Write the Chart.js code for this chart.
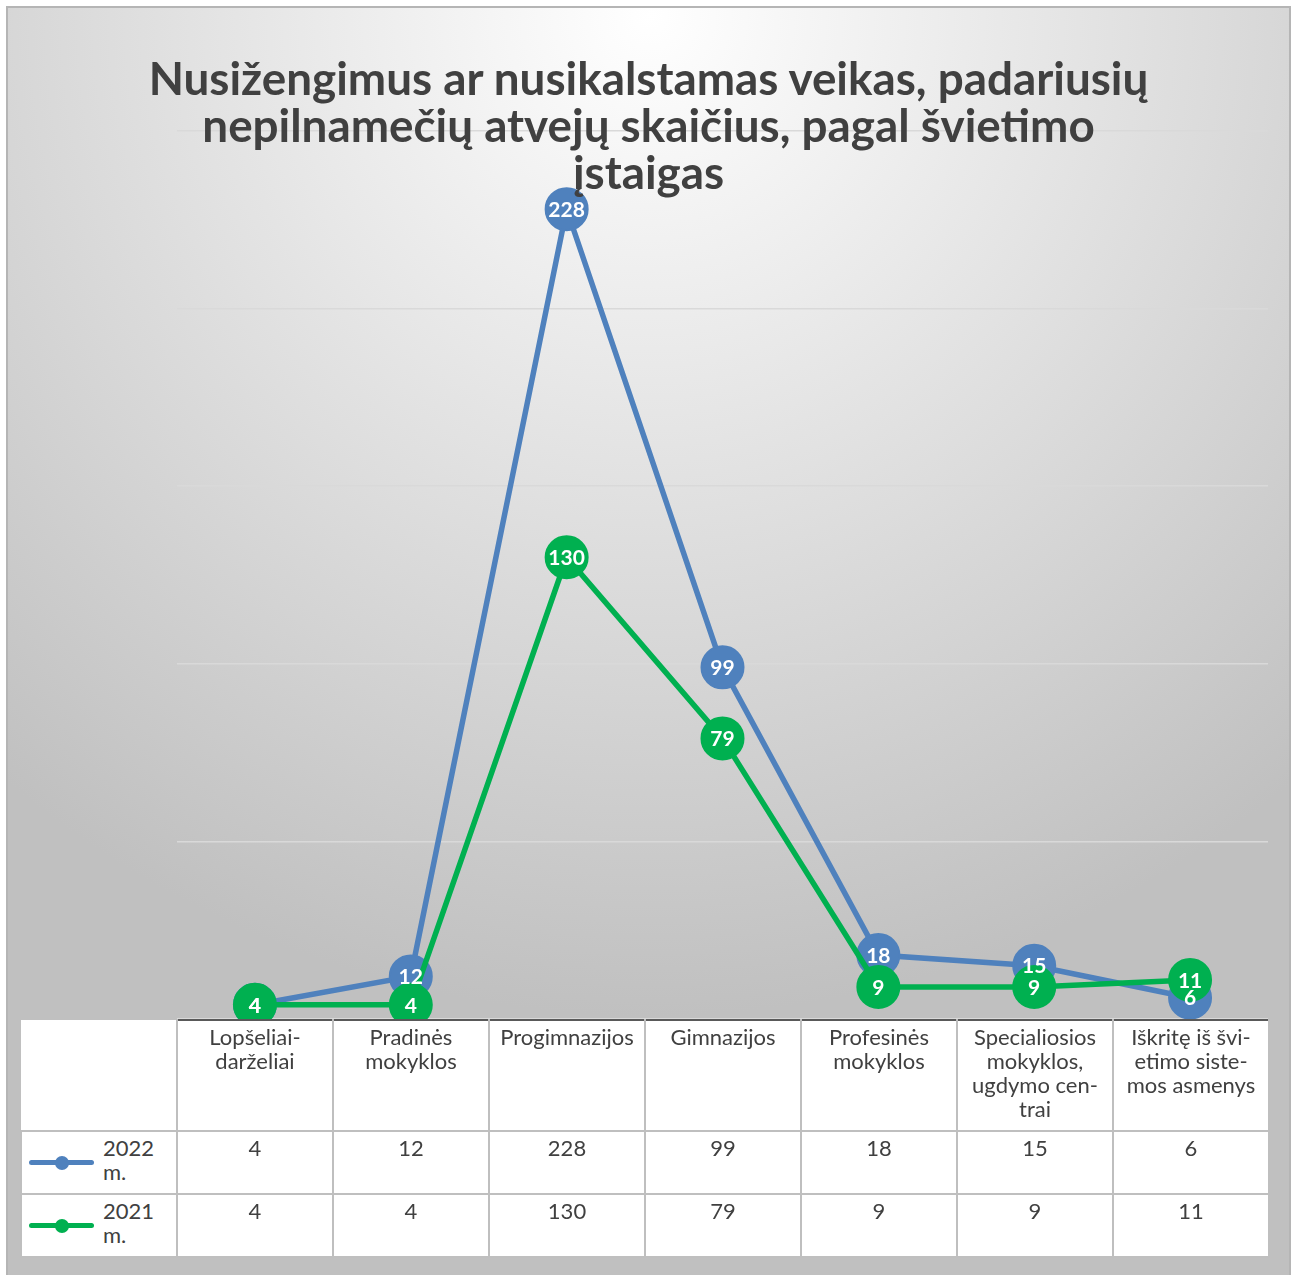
<!DOCTYPE html>
<html lang="lt">
<head>
<meta charset="UTF-8">
<script src="https://cdn.jsdelivr.net/npm/chart.js"></script>
<style>
    body { margin: 0; width: 1297px; height: 1275px; position: relative; overflow: hidden; background: #fff; font-family: Lato, sans-serif; }
    #frame { position: absolute; left: 6px; top: 6px; width: 1285px; height: 1280px; border: 2px solid #b5b5b5; box-sizing: border-box;
        background: radial-gradient(circle 1000px at 642px 8px, #ffffff 0%, #c0c0c0 100%); }
    #title { position: absolute; left: 0; top: 54px; width: 1297px; text-align: center; font: bold 45.8px/47px Lato, sans-serif; color: #404040; z-index: 2; }
    #myChart { position: absolute; left: 0; top: 0; z-index: 1; }
    #tbl { position: absolute; left: 20px; top: 1019px; border-collapse: collapse; table-layout: fixed; width: 1249px; z-index: 3;
        font: 22px/24px Lato, sans-serif; color: #404040; }
    #tbl td { border: 2px solid #bfbfbf; background: #fff; text-align: center; vertical-align: top; padding: 4px 0 0 0; position: relative; }
    #tbl tr.head td { border-top: 2px solid #595959; height: 105px; }
    #tbl tr.head td.corner { border-top: none; border-left: none; }
    #tbl tr.row td { height: 57px; }
    #tbl td.leg { text-align: left; }
    .sw { position: absolute; left: 7px; top: 28px; width: 65px; height: 5px; border-radius: 3px; }
    .sw::after { content: ""; position: absolute; left: 26px; top: -4.5px; width: 14px; height: 14px; border-radius: 7px; background: inherit; }
    .lt { display: block; margin-left: 81px; width: 60px; }
</style>
</head>
<body>
<div id="frame"></div>
<div id="title"></div>
<canvas id="myChart" width="1297" height="1275"></canvas>
<table id="tbl"></table>
<script>
    // duomenys
    const titleLines = ['Nusižengimus ar nusikalstamas veikas, padariusių', 'nepilnamečių atvejų skaičius, pagal švietimo', 'įstaigas'];
    const categories = [
        ['Lopšeliai-', 'darželiai'],
        ['Pradinės', 'mokyklos'],
        ['Progimnazijos'],
        ['Gimnazijos'],
        ['Profesinės', 'mokyklos'],
        ['Specialiosios', 'mokyklos,', 'ugdymo cen-', 'trai'],
        ['Iškritę iš švi-', 'etimo siste-', 'mos asmenys']
    ];
    const seriesNames = ['2022 m.', '2021 m.'];
    const values2022 = [4, 12, 228, 99, 18, 15, 6];
    const values2021 = [4, 4, 130, 79, 9, 9, 11];
    const seriesColors = ['#4f81bd', '#00b050'];
    const yMax = 250;
    const yStep = 50;

    document.getElementById('title').innerHTML = titleLines.join('<br>');

    // reikšmės apskritimų viduje
    const valueLabels = {
        id: 'valueLabels',
        afterDatasetsDraw(chart) {
            const ctx = chart.ctx;
            ctx.save();
            ctx.font = 'bold 21px Lato, sans-serif';
            ctx.fillStyle = '#ffffff';
            ctx.textAlign = 'center';
            ctx.textBaseline = 'middle';
            chart.data.datasets.forEach(function (ds, i) {
                chart.getDatasetMeta(i).data.forEach(function (pt, j) {
                    ctx.fillText(ds.data[j], pt.x, pt.y + 1);
                });
            });
            ctx.restore();
        }
    };

    const series = [values2022, values2021];
    let ctx = document.getElementById('myChart');
    let configs = {
        type: 'line',
        data: {
            labels: categories,
            datasets: series.map(function (vals, i) {
                return {
                    label: seriesNames[i],
                    data: vals,
                    borderColor: seriesColors[i],
                    backgroundColor: seriesColors[i],
                    pointBackgroundColor: seriesColors[i],
                    pointBorderColor: seriesColors[i],
                    borderWidth: 5.5,
                    pointRadius: 21,
                    pointHoverRadius: 21,
                    pointBorderWidth: 2,
                    tension: 0,
                    clip: false,
                    order: 1 - i
                };
            })
        },
        options: {
            responsive: false,
            animation: false,
            layout: { padding: { left: 177, right: 29, top: 131, bottom: 248 } },
            plugins: { legend: { display: false }, title: { display: false }, tooltip: { enabled: false } },
            scales: {
                x: {
                    offset: true,
                    grid: { display: false },
                    border: { display: false },
                    ticks: { display: false }
                },
                y: {
                    min: 0,
                    max: yMax,
                    ticks: { display: false, stepSize: yStep },
                    grid: { color: '#d9d9d9', lineWidth: 1.5, drawTicks: false },
                    border: { display: false }
                }
            }
        },
        plugins: [valueLabels]
    };
    let myChart = new Chart(ctx, configs);

    // duomenų lentelė po grafiku
    let html = '<colgroup>' + '<col style="width:156px">'.repeat(categories.length + 1) + '</colgroup>';
    html += '<tr class="head"><td class="corner"></td>' + categories.map(function (c) { return '<td>' + c.join('<br>') + '</td>'; }).join('') + '</tr>';
    series.forEach(function (vals, i) {
        html += '<tr class="row"><td class="leg"><span class="sw" style="background:' + seriesColors[i] + '"></span><span class="lt">' + seriesNames[i] + '</span></td>';
        html += vals.map(function (v) { return '<td>' + v + '</td>'; }).join('') + '</tr>';
    });
    document.getElementById('tbl').innerHTML = html;
</script>
</body>
</html>
